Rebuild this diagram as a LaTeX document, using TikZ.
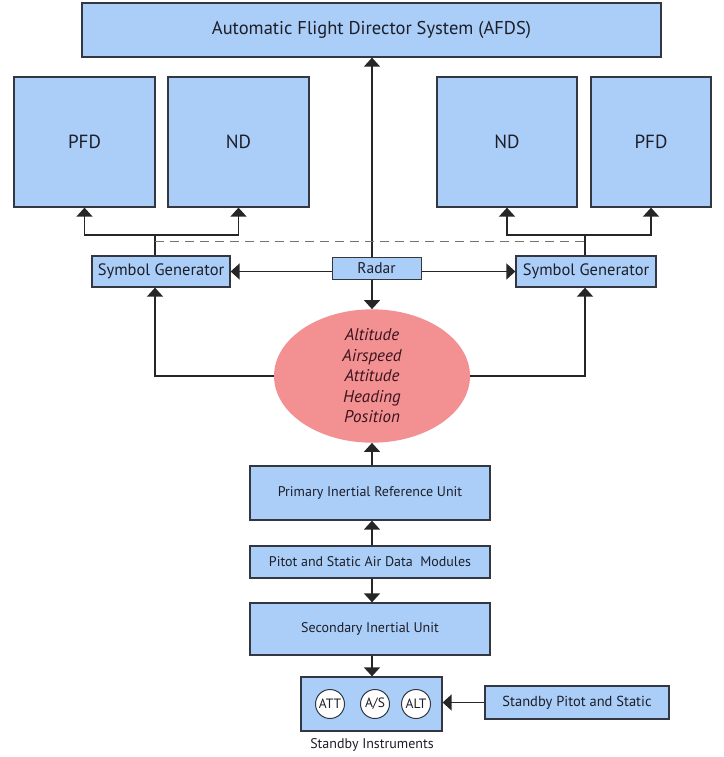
\documentclass[tikz,border=0pt]{standalone}
\usepackage{fontspec}
\setmainfont{PT Sans}
\usetikzlibrary{arrows.meta,shapes.geometric,calc}
\definecolor{boxblue}{RGB}{170,206,248}
\definecolor{boxline}{RGB}{50,55,65}
\definecolor{ellpink}{RGB}{242,144,146}
\definecolor{txt}{RGB}{30,30,40}
\definecolor{elltxt}{RGB}{60,20,30}
\tikzset{
  box/.style={draw=boxline, line width=1.3pt, fill=boxblue, text=txt, inner sep=0pt, align=center},
  conn/.style={draw=black!85, line width=1.6pt},
  arr/.style={conn, -{Triangle[width=16pt,length=9pt]}},
  gauge/.style={circle, draw=boxline, line width=1pt, fill=white, minimum size=29pt, inner sep=0pt, font=\fontsize{13.5}{15}\selectfont, text=txt},
}
\begin{document}
\begin{tikzpicture}[x=1pt,y=-1pt]
\useasboundingbox (0,0) rectangle (723,757);
% nodes
\node[box, minimum width=579pt, minimum height=54pt, font=\fontsize{18.5}{21}\selectfont] (afds) at (371.5,30) {Automatic Flight Director System (AFDS)};
\node[box, minimum width=141pt, minimum height=130pt, font=\fontsize{19}{22}\selectfont] (pfdl) at (84.5,142) {PFD};
\node[box, minimum width=141pt, minimum height=130pt, font=\fontsize{19}{22}\selectfont] (ndl) at (238.5,142) {ND};
\node[box, minimum width=140pt, minimum height=130pt, font=\fontsize{19}{22}\selectfont] (ndr) at (507,142) {ND};
\node[box, minimum width=120pt, minimum height=130pt, font=\fontsize{19}{22}\selectfont] (pfdr) at (651,142) {PFD};
\node[box, minimum width=138pt, minimum height=31pt, font=\fontsize{16.5}{19}\selectfont] (sgl) at (161,271.5) {Symbol Generator};
\node[box, minimum width=140pt, minimum height=31pt, font=\fontsize{16.5}{19}\selectfont] (sgr) at (586,271.5) {Symbol Generator};
\node[ellipse, fill=ellpink, minimum width=196pt, minimum height=96pt, inner sep=0pt, align=center, text=elltxt, font=\fontsize{17}{20.5}\selectfont\itshape] (ell) at (372,376) {Altitude\\Airspeed\\Attitude\\Heading\\Position};
\node[box, minimum width=240pt, minimum height=54pt, font=\fontsize{14}{16}\selectfont] (piru) at (370,493) {Primary Inertial Reference Unit};
\node[box, minimum width=240pt, minimum height=32pt, font=\fontsize{14}{16}\selectfont] (pitot) at (370,562) {Pitot and Static Air Data\ \ Modules};
\node[box, minimum width=240pt, minimum height=52pt, font=\fontsize{14}{16}\selectfont] (siu) at (370,629) {Secondary Inertial Unit};
\node[box, minimum width=141pt, minimum height=54pt] (si) at (371.5,704) {};
\node[box, minimum width=184pt, minimum height=33pt, font=\fontsize{14.5}{16}\selectfont] (sps) at (577,702.5) {Standby Pitot and Static};
\node[gauge] (att) at (330,704) {ATT};
\node[gauge] (as) at (375,704) {A/S};
\node[gauge] (alt) at (416,704) {ALT};
\node[text=txt, font=\fontsize{14}{16}\selectfont] (silabel) at (372,745) {Standby Instruments};
% coordinates
\coordinate (jl) at (155,235);
\coordinate (jr) at (585,235);
\coordinate (dl) at (155,241);
\coordinate (dr) at (585,241);
% connectors
\draw[arr] (ell.north |- sgl.center) -- (ell.north |- afds.south);
\draw[arr] (ell.north |- sgl.center) -- (ell.north);
\draw[arr] (ell.north |- sgl.center) -- (sgl.east);
\draw[arr] (ell.north |- sgr.center) -- (sgr.west);
\draw[conn] (sgl.north -| jl) -- (jl);
\draw[arr] (jl) -| (pfdl.south);
\draw[arr] (jl) -| (ndl.south);
\draw[conn] (sgr.north -| jr) -- (jr);
\draw[arr] (jr) -| (ndr.south);
\draw[arr] (jr) -| (pfdr.south);
\draw[draw=black!55, line width=0.9pt, dash pattern=on 9pt off 6pt] (dl) -- (dr);
\draw[arr] (ell.west) -| (sgl.south -| jl);
\draw[arr] (ell.east) -| (sgr.south -| jr);
\draw[arr] (piru.north -| ell.south) -- (ell.south);
\draw[arr] (pitot.north -| ell.south) -- (piru.south -| ell.south);
\draw[arr] (pitot.south -| ell.south) -- (siu.north -| ell.south);
\draw[arr] (siu.south -| ell.south) -- (si.north -| ell.south);
\draw[arr] (sps.west) -- (si.east |- sps.west);
% radar on top of vertical line
\node[box, minimum width=89pt, minimum height=22pt, line width=1pt, font=\fontsize{15.5}{17}\selectfont] (radar) at (376.5,268) {Radar};
\end{tikzpicture}
\end{document}
